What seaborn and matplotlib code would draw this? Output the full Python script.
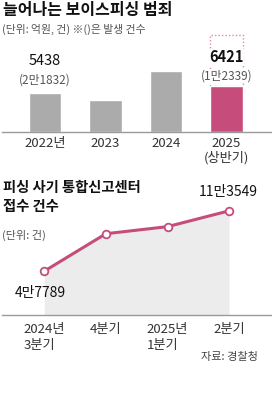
import matplotlib
matplotlib.use('Agg')
import matplotlib.pyplot as plt
import seaborn as sns
import pandas as pd

# ---- data ----
years = ['2022년', '2023', '2024', '2025\n(상반기)']
damage = [5438, 4472, 8545, 6421]
value_labels = ['5438', '', '', '6421']
case_labels = ['(2만1832)', '', '', '(1만2339)']
projected_2025 = 13600

quarters = ['2024년\n3분기', '4분기', '2025년\n1분기', '2분기']
reports = [47789, 88600, 96300, 113549]
report_labels = ['4만7789', '', '', '11만3549']

# ---- style ----
sns.set_theme(style='white')
plt.rcParams['font.family'] = ['Noto Sans CJK KR', 'DejaVu Sans']

GRAY_BAR = '#ababab'
PINK = '#c64d7b'
PINK_LIGHT = '#e38aa8'
AXIS = '#9a9a9a'

W, H = 272, 400
fig = plt.figure(figsize=(W / 100, H / 100), dpi=100)
fig.patch.set_facecolor('white')


def rect(x0, y0, x1, y1):
    return [x0 / W, 1 - y1 / H, (x1 - x0) / W, (y1 - y0) / H]


def px(v):
    return v * 0.72


# ---- top bar chart ----
ax1 = fig.add_axes(rect(2, 30, 272, 131.7))
df1 = pd.DataFrame({'year': years, 'damage': damage})
colors = [GRAY_BAR, GRAY_BAR, GRAY_BAR, PINK]
sns.barplot(data=df1, x='year', y='damage', hue='year', palette=colors,
            legend=False, width=0.53, saturation=1, ax=ax1, zorder=2)
ax1.bar(3, projected_2025 - damage[3], bottom=damage[3], width=0.53,
        fill=False, edgecolor=PINK_LIGHT, linestyle=(0, (1, 1.5)),
        linewidth=1.0, zorder=1)
ax1.set_xlim(-(45 - 2) / 60.5, (272 - 45) / 60.5)
ax1.set_ylim(0, (131.7 - 30) * 140.5)
ax1.set_xlabel('')
ax1.set_ylabel('')
ax1.set_yticks([])
ax1.set_xticks(range(len(years)), labels=years)
ax1.tick_params(axis='x', length=0, pad=px(5), labelsize=9.5, labelcolor='#333333')
for lbl in ax1.get_xticklabels():
    lbl.set_linespacing(1.15)
for s in ['top', 'left', 'right']:
    ax1.spines[s].set_visible(False)
ax1.spines['bottom'].set_color(AXIS)
ax1.spines['bottom'].set_linewidth(1)
ax1.patch.set_alpha(0)

for i, (v, vl, cl) in enumerate(zip(damage, value_labels, case_labels)):
    if vl:
        top_off = 31.5 if i == 0 else 28.5
        ax1.annotate(vl, xy=(i, v), xytext=(0, px(top_off)), textcoords='offset points',
                     ha='center', va='center', fontsize=10.5, color='#111111',
                     fontweight='bold' if i == 3 else 'normal', zorder=5,
                     bbox=dict(boxstyle='square,pad=0.05', fc='white', ec='none'))
    if cl:
        sub_off = 13 if i == 0 else 10
        ax1.annotate(cl, xy=(i, v), xytext=(0, px(sub_off)), textcoords='offset points',
                     ha='center', va='center', fontsize=8.5, color='#555555', zorder=5,
                     bbox=dict(boxstyle='square,pad=0.05', fc='white', ec='none'))

# ---- bottom line chart ----
ax2 = fig.add_axes(rect(2, 200, 272, 315))
xs = list(range(len(quarters)))
ax2.fill_between(xs, reports, 0, color='#ececec', lw=0, zorder=1)
sns.lineplot(x=xs, y=reports, color=PINK, lw=2.2, ax=ax2, zorder=3,
             marker='o', markersize=5.5, markerfacecolor='white',
             markeredgecolor=PINK, markeredgewidth=1.3, clip_on=False)
ax2.set_xlim(-(44.3 - 2) / 61.6, (272 - 44.3) / 61.6)
ax2.set_ylim(0, (315 - 200) * 1090)
ax2.set_yticks([])
ax2.set_xticks(xs, labels=quarters)
ax2.tick_params(axis='x', direction='in', length=5, width=0.8, color=AXIS,
                pad=px(8), labelsize=9.5, labelcolor='#333333')
for lbl in ax2.get_xticklabels():
    lbl.set_multialignment('left')
    lbl.set_linespacing(1.25)
for s in ['top', 'left', 'right']:
    ax2.spines[s].set_visible(False)
ax2.spines['bottom'].set_color(AXIS)
ax2.spines['bottom'].set_linewidth(1)
ax2.patch.set_alpha(0)

ax2.annotate(report_labels[0], xy=(0, reports[0]), xytext=(px(-4), px(-22)),
             textcoords='offset points', ha='center', va='center',
             fontsize=10, color='#111111')
ax2.annotate(report_labels[3], xy=(3, reports[3]), xytext=(px(-1), px(19)),
             textcoords='offset points', ha='center', va='center',
             fontsize=10, color='#111111')

# ---- texts ----
fig.text(3 / W, 1 - 10 / H, '늘어나는 보이스피싱 범죄', fontsize=11.5, fontweight='bold',
         color='#111111', va='center', ha='left')
fig.text(2 / W, 1 - 29 / H, '(단위: 억원, 건) ※()은 발생 건수', fontsize=7.8,
         color='#555555', va='center', ha='left')
fig.text(3 / W, 1 - 188 / H, '피싱 사기 통합신고센터', fontsize=10.3, fontweight='bold',
         color='#111111', va='center', ha='left')
fig.text(3 / W, 1 - 206.5 / H, '접수 건수', fontsize=10.3, fontweight='bold',
         color='#111111', va='center', ha='left')
fig.text(2 / W, 1 - 235 / H, '(단위: 건)', fontsize=8, color='#555555',
         va='center', ha='left')
fig.text(258 / W, 1 - 357 / H, '자료: 경찰청', fontsize=8, color='#444444',
         va='center', ha='right')

fig.savefig('out.png', dpi=100, facecolor='white')
